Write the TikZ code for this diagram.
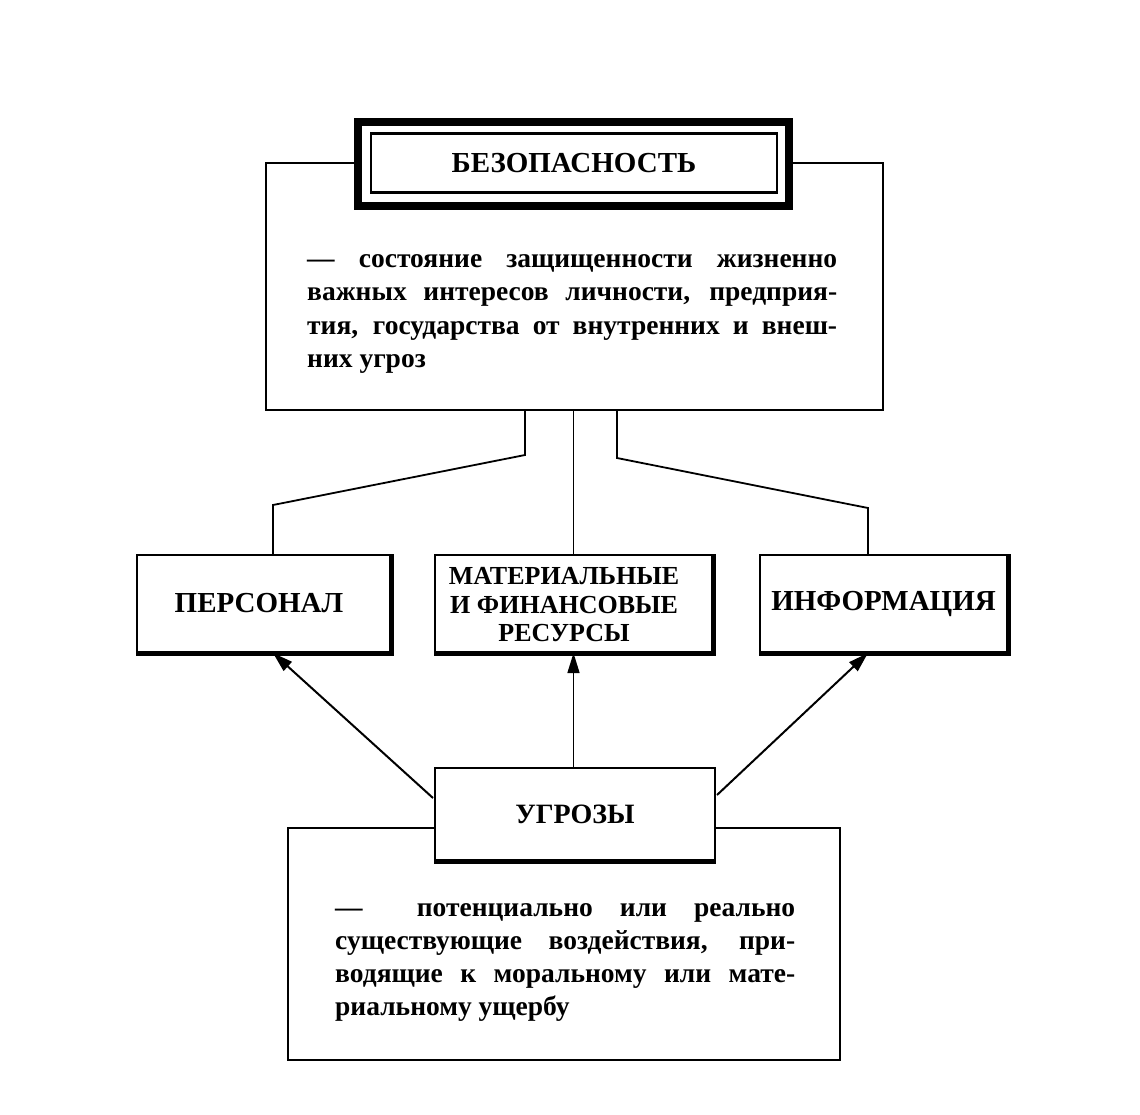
\documentclass[tikz,border=0pt]{standalone}
\usepackage{fontspec}
\setmainfont{Liberation Serif}
\usetikzlibrary{arrows.meta,calc}
\begin{document}
\begin{tikzpicture}[x=1pt,y=-1pt,
  box/.style={draw, line width=2pt, fill=white, inner sep=0pt, align=center},
  heavyedge/.style={line width=5pt, line cap=square},
  link/.style={line width=1.8pt},
  arrowline/.style={line width=2pt, -{Triangle[length=20pt,width=12pt]}},
  bodytext/.style={font=\bfseries\fontsize{27.5}{33.3}\selectfont, inner sep=0pt, anchor=north west, align=left},
  labeltext/.style={font=\bfseries\fontsize{29}{28.5}\selectfont}
]
\useasboundingbox (0,0) rectangle (1140,1114);
\fill[white] (0,0) rectangle (1140,1114);

% top definition box
\node[box, minimum width=617pt, minimum height=247pt] (big) at (574.5,286.5) {};
\node[box, line width=8pt, minimum width=431pt, minimum height=84pt] (bez) at (573.5,164) {};
\node[draw, line width=2.2pt, inner sep=0pt, minimum width=406pt, minimum height=59pt, labeltext] (bezin) at (574,163) {БЕЗОПАСНОСТЬ};
\node[bodytext] (deftop) at (307,244) {\strut\makebox[530pt][s]{— состояние защищенности жизненно}\\
\strut\makebox[530pt][s]{важных интересов личности, предприя-}\\
\strut\makebox[530pt][s]{тия, государства от внутренних и внеш-}\\
\strut них угроз};

% middle boxes
\node[box, minimum width=253pt, minimum height=97pt, labeltext] (per) at (263.5,603.5) {};
\node[labeltext, inner sep=0pt] (pertext) at (259,603.5) {ПЕРСОНАЛ};
\node[box, minimum width=277pt, minimum height=97pt] (mat) at (573.5,603.5) {};
\node[inner sep=0pt, align=center, font=\bfseries\fontsize{26}{28.5}\selectfont] (mattext) at (564,605) {МАТЕРИАЛЬНЫЕ\\ \makebox[228pt][s]{И ФИНАНСОВЫЕ}\\ РЕСУРСЫ};
\node[box, minimum width=247pt, minimum height=97pt, labeltext] (inf) at (883.5,603.5) {ИНФОРМАЦИЯ};

\foreach \n in {per,mat,inf} {
  \draw[heavyedge] (\n.north east) -- (\n.south east) -- (\n.south west);
}

% connectors from top box
\coordinate (j1) at (525,455);
\coordinate (j2) at (273,505);
\coordinate (j3) at (617,458);
\coordinate (j4) at (868,508);
\draw[link] (big.south -| j1) -- (j1) -- (j2) -- (j2 |- per.north);
\draw[link, line width=1.4pt] (big.south -| mat.north) -- (mat.north);
\draw[link] (big.south -| j3) -- (j3) -- (j4) -- (j4 |- inf.north);

% bottom definition box
\node[box, minimum width=552pt, minimum height=232pt] (low) at (564,944) {};
\node[box, minimum width=280pt, minimum height=92pt, font=\bfseries\fontsize{28}{28.5}\selectfont] (ugr) at (575,814) {УГРОЗЫ};
\draw[heavyedge] (ugr.south west) -- (ugr.south east);
\node[bodytext, font=\bfseries\fontsize{27.5}{33}\selectfont] (deflow) at (335,893) {\strut\makebox[460pt][s]{— \ потенциально или реально}\\
\strut\makebox[460pt][s]{существующие воздействия, при-}\\
\strut\makebox[460pt][s]{водящие к моральному или мате-}\\
\strut риальному ущербу};

% threat arrows
\coordinate (a1) at (433,798);
\coordinate (a3) at (717,795);
\draw[arrowline] (a1) -- (per.south -| j2);
\draw[arrowline, line width=1.4pt] (ugr.north -| mat.north) -- (mat.south);
\draw[arrowline] (a3) -- (inf.south -| j4);
\end{tikzpicture}
\end{document}
